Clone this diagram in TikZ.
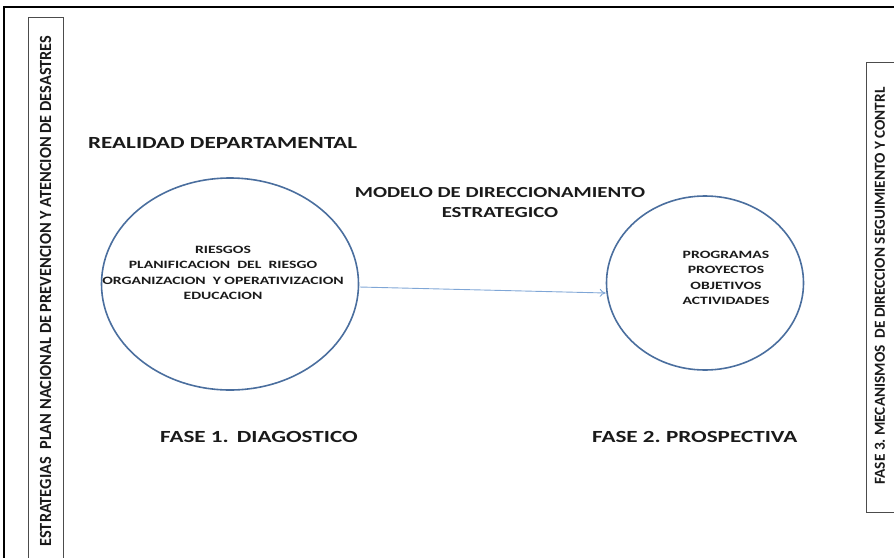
\documentclass[tikz,border=0pt]{standalone}
\usepackage{fontspec}
\setmainfont{Carlito}
\newfontfamily\widefont{Carlito}[FakeStretch=1.36]
\newfontfamily\wideplus{Carlito}[FakeStretch=1.4]
\newfontfamily\lfont{Carlito}[FakeStretch=0.96]
\usetikzlibrary{shapes.geometric,arrows.meta}
\definecolor{ellblue}{HTML}{4A6E9E}
\definecolor{arrblue}{HTML}{7FA6D6}
\definecolor{txtdark}{HTML}{1A1A1A}
\tikzset{
  sidebox/.style={draw=black!70,line width=1pt},
  ell/.style={draw=ellblue,line width=1.6pt,ellipse,inner sep=0pt},
  title/.style={font=\widefont\bfseries\fontsize{17}{20}\selectfont,text=txtdark,inner sep=0pt},
  small/.style={font=\wideplus\bfseries\fontsize{11.2}{15.5}\selectfont,text=txtdark,inner sep=0pt,align=center},
  vert/.style={font=\lfont\bfseries\fontsize{17}{18}\selectfont,text=txtdark,inner sep=0pt,rotate=90},
}
\begin{document}
\frenchspacing
\begin{tikzpicture}[x=1pt,y=-1pt]
\useasboundingbox (0,0) rectangle (894,557);
% outer frame
\draw[line width=2.2pt] (4,580) -- (4,7) -- (920,7);
% side boxes
\node[sidebox,minimum width=35pt,minimum height=560pt,anchor=north west] (lbox) at (28,17) {};
\node[vert] (ltext) at (45.5,291) {ESTRATEGIAS\ \ PLAN NACIONAL DE PREVENCION Y ATENCION DE DESASTRES};
\node[sidebox,minimum width=40pt,minimum height=450pt,anchor=north west] (rbox) at (866,62) {};
\node[vert,font=\bfseries\fontsize{15.3}{16}\selectfont] (rtext) at (880,286) {FASE 3. MECANISMOS\ \ DE DIRECCION SEGUIMIENTO Y CONTRL};
% titles
\node[title,anchor=west] (real) at (88,143) {REALIDAD DEPARTAMENTAL};
\node[title,font=\widefont\bfseries\fontsize{15.3}{20}\selectfont,align=center] (modelo) at (500,203) {MODELO DE DIRECCIONAMIENTO\\ESTRATEGICO};
% ellipses
\node[ell,minimum width=257pt,minimum height=212pt] (e1) at (230,284) {};
\node[ell,minimum width=197pt,minimum height=174pt] (e2) at (705,283) {};
\node[small] (t1) at (223,273) {RIESGOS\\PLANIFICACION\ \ DEL\ \ RIESGO\\ORGANIZACION\ \ Y OPERATIVIZACION\\EDUCACION};
\node[small] (t2) at (726,278) {PROGRAMAS\\PROYECTOS\\OBJETIVOS\\ACTIVIDADES};
% arrow
\draw[arrblue,line width=0.9pt,-{To[length=6pt,width=8pt]}] ([yshift=-3pt]e1.east) -- ([yshift=-10pt]e2.west);
% phases
\node[title,anchor=west] (f1) at (160,437) {FASE 1.\hspace{8pt}DIAGOSTICO};
\node[title,anchor=west] (f2) at (592,437) {FASE 2. PROSPECTIVA};
\end{tikzpicture}
\end{document}
